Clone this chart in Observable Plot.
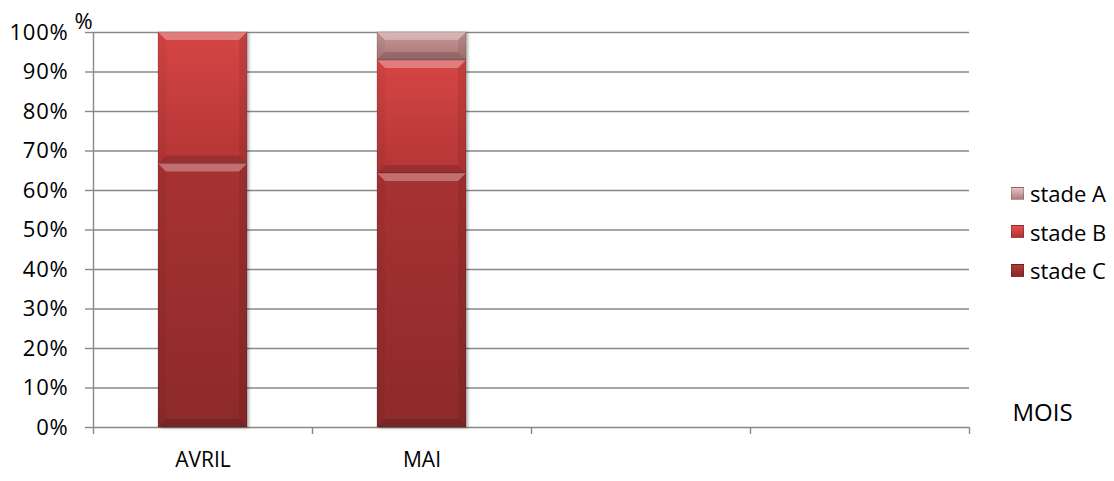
<!DOCTYPE html>
<html><head><meta charset="utf-8">
<script src="https://cdn.jsdelivr.net/npm/d3@7"></script>
<script src="https://cdn.jsdelivr.net/npm/@observablehq/plot@0.6"></script>
<style>
body{margin:0;background:#fff;font-family:"Open Sans",sans-serif;}
#wrap{position:relative;width:1114px;height:481px;}
#legend{position:absolute;left:1011px;top:174px;font-size:22px;color:#000;}
.item{display:flex;align-items:center;height:38.5px;white-space:nowrap;}
.sw{width:13px;height:13px;margin-right:6px;box-sizing:border-box;}
</style></head><body>
<svg width="0" height="0" style="position:absolute">
<defs>
<linearGradient id="gA" x1="0" y1="0" x2="0" y2="1"><stop offset="0" stop-color="#c79898"/><stop offset="1" stop-color="#a87474"/></linearGradient>
<linearGradient id="gB" x1="0" y1="0" x2="0" y2="1"><stop offset="0" stop-color="#d64545"/><stop offset="1" stop-color="#b43636"/></linearGradient>
<linearGradient id="gC" x1="0" y1="0" x2="0" y2="1"><stop offset="0" stop-color="#a83232"/><stop offset="1" stop-color="#8d2a2a"/></linearGradient>
</defs></svg>
<div id="wrap"><div id="legend"></div></div>
<script>
const months = ["AVRIL", "MAI", "m3", "m4"];
const monthLabels = ["AVRIL", "MAI", "", ""];
const stages = ["stade A", "stade B", "stade C"];
const stadeA = [0, 7.1];
const stadeB = [33.3, 28.6];
const stadeC = [66.7, 64.3];
const yTicks = [0, 10, 20, 30, 40, 50, 60, 70, 80, 90, 100];
const stageFills = ["url(#gA)", "url(#gB)", "url(#gC)"];
const swatchCss = [
  "linear-gradient(#e8c4c4,#b07c7c)",
  "linear-gradient(#e25252,#b03434)",
  "linear-gradient(#b53a3a,#862828)"
];

const data = [];
[stadeA, stadeB, stadeC].forEach((vals, s) => {
  vals.forEach((v, i) => data.push({month: months[i], stage: stages[s], value: v}));
});

const W = 1114, H = 481, mL = 93, mR = 145, mT = 32, mB = 54;
const step = (W - mL - mR) / months.length;
const grid = "#888888";

const plot = Plot.plot({
  width: W, height: H,
  marginLeft: mL, marginRight: mR, marginTop: mT, marginBottom: mB,
  style: {fontFamily: "Open Sans, sans-serif", fontSize: "21px", color: "#000", background: "#fff"},
  x: {domain: months, paddingInner: 0.594, paddingOuter: 0.297, axis: null, label: null},
  y: {domain: [0, 100], axis: null, label: null},
  color: {domain: stages, range: stageFills},
  marks: [
    Plot.gridY(yTicks, {stroke: grid, strokeOpacity: 1, strokeWidth: 1.4}),
    Plot.ruleX([months[0]], {dx: -step / 2, y1: 0, y2: 100, stroke: grid, strokeWidth: 1.4}),
    Plot.barY(data, {x: "month", y: "value", fill: "stage", order: ["stade C", "stade B", "stade A"]}),
    Plot.axisY(yTicks, {tickSize: 8, tickPadding: 17, tickFormat: d => d + "%", stroke: grid, strokeWidth: 1.4, fill: "#000", fontSize: 22, label: null, className: "yax"}),
    Plot.axisX(months, {tickSize: 7, dx: -step / 2, tickFormat: () => "", stroke: grid, strokeWidth: 1.4, label: null}),
    Plot.axisX([months[months.length - 1]], {tickSize: 7, dx: step / 2, tickFormat: () => "", stroke: grid, strokeWidth: 1.4, label: null}),
    Plot.axisX(months, {tickSize: 0, tickPadding: 25, tickFormat: d => monthLabels[months.indexOf(d)], fill: "#000", fontSize: 21, label: null}),
    Plot.text(["%"], {frameAnchor: "top-left", textAnchor: "middle", lineAnchor: "middle", dx: -10, dy: -11, fontSize: 22, fill: "#000"}),
    Plot.text(["MOIS"], {frameAnchor: "bottom-right", textAnchor: "middle", lineAnchor: "middle", dx: 73, dy: -14, fontSize: 24, fill: "#000"})
  ]
});

const sel = d3.select(plot);
// slightly wider lettering for y tick labels
sel.selectAll('g[aria-label="y-axis tick label"] text').style("letter-spacing", "0.8px");
// bevel effect on bars
sel.selectAll('g[aria-label="bar"]').style("filter", "drop-shadow(2px 1px 1.5px rgba(0,0,0,0.3))");
sel.selectAll('g[aria-label="bar"] rect').each(function() {
  const r = d3.select(this);
  const x = +r.attr("x"), y = +r.attr("y"), w = +r.attr("width"), h = +r.attr("height");
  if (!(h > 0)) return;
  const b = Math.min(8, h / 3);
  const g = d3.select(this.parentNode);
  const poly = (pts, fill, op) => g.append("polygon").attr("points", pts.map(p => p.join(",")).join(" ")).attr("fill", fill).attr("fill-opacity", op);
  poly([[x, y], [x + w, y], [x + w - b, y + b], [x + b, y + b]], "#fff", 0.3);
  poly([[x, y + h], [x + w, y + h], [x + w - b, y + h - b], [x + b, y + h - b]], "#000", 0.14);
  poly([[x, y], [x + b, y + b], [x + b, y + h - b], [x, y + h]], "#000", 0.04);
  poly([[x + w, y], [x + w - b, y + b], [x + w - b, y + h - b], [x + w, y + h]], "#000", 0.08);
  g.append("rect").attr("x", x).attr("y", y).attr("width", w).attr("height", h).attr("fill", "none").attr("stroke", "#000").attr("stroke-opacity", 0.15).attr("stroke-width", 1);
});

document.getElementById("wrap").prepend(plot);

const legend = d3.select("#legend");
stages.forEach((s, i) => {
  const it = legend.append("div").attr("class", "item");
  it.append("div").attr("class", "sw").style("background", swatchCss[i]).style("border", "1px solid rgba(0,0,0,0.2)");
  it.append("span").text(s);
});
</script>
</body></html>
